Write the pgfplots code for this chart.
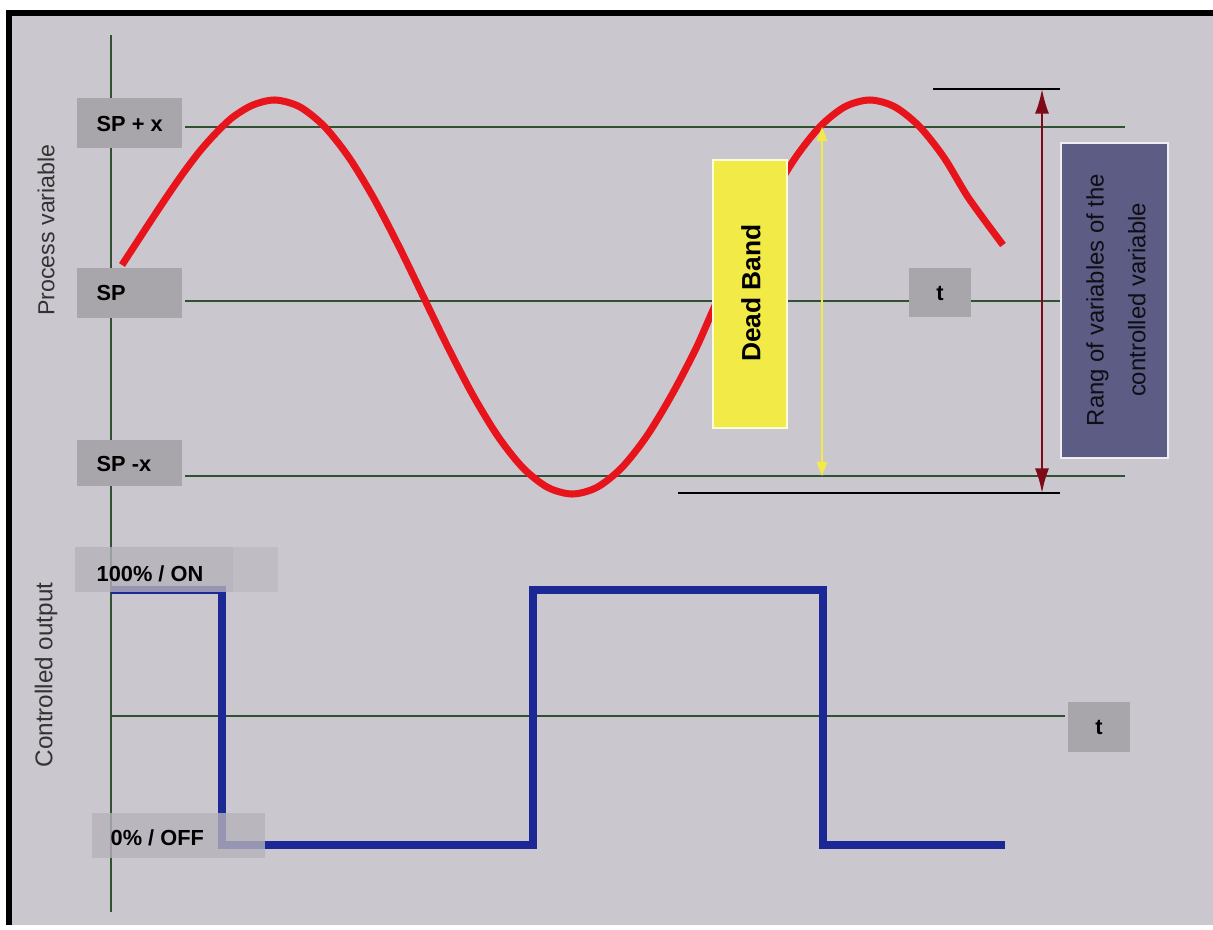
\documentclass[border=0pt]{standalone}
\usepackage{pgfplots}
\pgfplotsset{compat=1.18}
\usepackage{fontspec}
\setmainfont{Liberation Sans}
\usetikzlibrary{arrows.meta}
\definecolor{bg}{RGB}{203,199,207}
\definecolor{lbl}{RGB}{168,166,171}
\definecolor{hatch}{RGB}{182,178,186}
\definecolor{gline}{RGB}{50,80,50}
\definecolor{pvred}{RGB}{232,20,28}
\definecolor{cblue}{RGB}{28,40,150}
\definecolor{dbyellow}{RGB}{242,234,70}
\definecolor{rangep}{RGB}{92,92,132}
\definecolor{darr}{RGB}{125,10,22}
\newcommand\fs[1]{\fontsize{#1}{#1}\selectfont}
\begin{document}
\begin{tikzpicture}
\begin{axis}[hide axis, scale only axis, width=12.13cm, height=9.29cm,
  xmin=0, xmax=1213, ymin=0, ymax=929, y dir=reverse, clip=false]
% background and frame
\fill[white] (axis cs:0,0) rectangle (axis cs:1213,929);
\fill[bg] (axis cs:10,13) rectangle (axis cs:1213,925);
\fill[black] (axis cs:6,10) rectangle (axis cs:1213,16);
\fill[black] (axis cs:6,10) rectangle (axis cs:12,925);
% axes lines
\draw[gline, line width=0.6pt] (axis cs:111,35) -- (axis cs:111,912);
\draw[gline, line width=0.6pt] (axis cs:185,127) -- (axis cs:1125,127);
\draw[gline, line width=0.6pt] (axis cs:185,301) -- (axis cs:1060,301);
\draw[gline, line width=0.6pt] (axis cs:185,476) -- (axis cs:1125,476);
\draw[gline, line width=0.6pt] (axis cs:111,716) -- (axis cs:1065,716);
% range markers
\draw[black, line width=0.6pt] (axis cs:933,89) -- (axis cs:1060,89);
\draw[black, line width=0.6pt] (axis cs:678,493) -- (axis cs:1060,493);
% process variable
\addplot[pvred, line width=2pt, smooth, line join=round] coordinates {
(122,265) (137,242) (152,219) (168,195) (184,172) (200,151) (216,133)
(233,117) (253,105) (275,100) (299.5,106.7) (324.3,126.4) (349.1,157.7)
(373.9,198.5) (398.7,246) (423.5,297) (448.3,348) (473.1,395.5)
(497.9,436.3) (522.7,467.6) (547.5,487.3) (572.3,494) (597,487.3)
(621.8,467.6) (646.6,436.3) (671.4,395.5) (696.2,348) (719,297)
(745.8,246) (770.6,198.5) (795.4,157.7) (820.2,126.4) (845,106.7)
(869.8,100) (894.5,106.7) (919.3,126.4) (944.1,157.7) (968.9,198.5)
(1003,245)
};
% controlled output
\addplot[cblue, line width=2.1pt, line join=miter] coordinates {
(111,590) (222,590) (222,845) (533,845) (533,590) (823,590) (823,845) (1005,845)
};
% arrows
\draw[dbyellow, line width=0.35pt, {Triangle[length=4pt,width=3pt]}-{Triangle[length=4pt,width=3pt]}]
  (axis cs:822,127) -- (axis cs:822,476);
\draw[darr, line width=0.6pt, {Latex[length=7pt,width=4pt]}-{Latex[length=7pt,width=4pt]}]
  (axis cs:1042,89) -- (axis cs:1042,493);
% label boxes
\fill[lbl] (axis cs:77,98) rectangle (axis cs:182,148);
\fill[lbl] (axis cs:77,268) rectangle (axis cs:182,318);
\fill[lbl] (axis cs:77,440) rectangle (axis cs:182,486);
\fill[lbl] (axis cs:909,268) rectangle (axis cs:971,317);
\fill[lbl] (axis cs:1068,702) rectangle (axis cs:1130,752);
\fill[hatch, opacity=0.8] (axis cs:75,547) rectangle (axis cs:233,592);
\fill[hatch, opacity=0.5] (axis cs:233,547) rectangle (axis cs:278,592);
\fill[hatch, opacity=0.8] (axis cs:92,813) rectangle (axis cs:265,858);
\node[anchor=west, inner sep=0pt, font=\fs{6.2}\bfseries] at (axis cs:96,124) {SP + x};
\node[anchor=west, inner sep=0pt, font=\fs{6.2}\bfseries] at (axis cs:96,293) {SP};
\node[anchor=west, inner sep=0pt, font=\fs{6.2}\bfseries] at (axis cs:96,464) {SP -x};
\node[inner sep=0pt, font=\fs{6.2}\bfseries] at (axis cs:940,293) {t};
\node[inner sep=0pt, font=\fs{6.2}\bfseries] at (axis cs:1099,727) {t};
\node[anchor=west, inner sep=0pt, font=\fs{6.2}\bfseries] at (axis cs:96,574) {100\% / ON};
\node[anchor=west, inner sep=0pt, font=\fs{6.2}\bfseries] at (axis cs:110,838) {0\% / OFF};
% dead band
\fill[dbyellow, draw=white!80!dbyellow, line width=0.3pt] (axis cs:713,160) rectangle (axis cs:787,428);
\node[rotate=90, inner sep=0pt, font=\fs{7.5}\bfseries] at (axis cs:751,293) {Dead Band};
% range box
\fill[rangep, draw=white!70!bg, line width=0.5pt] (axis cs:1061,143) rectangle (axis cs:1168,458);
\node[rotate=90, inner sep=0pt, align=center, text=black!85!rangep, font=\fontsize{6.8}{11.9}\selectfont]
  at (axis cs:1116,300) {Rang of variables of the\\controlled variable};
% axis titles
\node[rotate=90, inner sep=0pt, font=\fs{6.6}, text=black!80] at (axis cs:46,230) {Process variable};
\node[rotate=90, inner sep=0pt, font=\fs{6.9}, text=black!80] at (axis cs:46,675) {Controlled output};
\end{axis}
\end{tikzpicture}
\end{document}
